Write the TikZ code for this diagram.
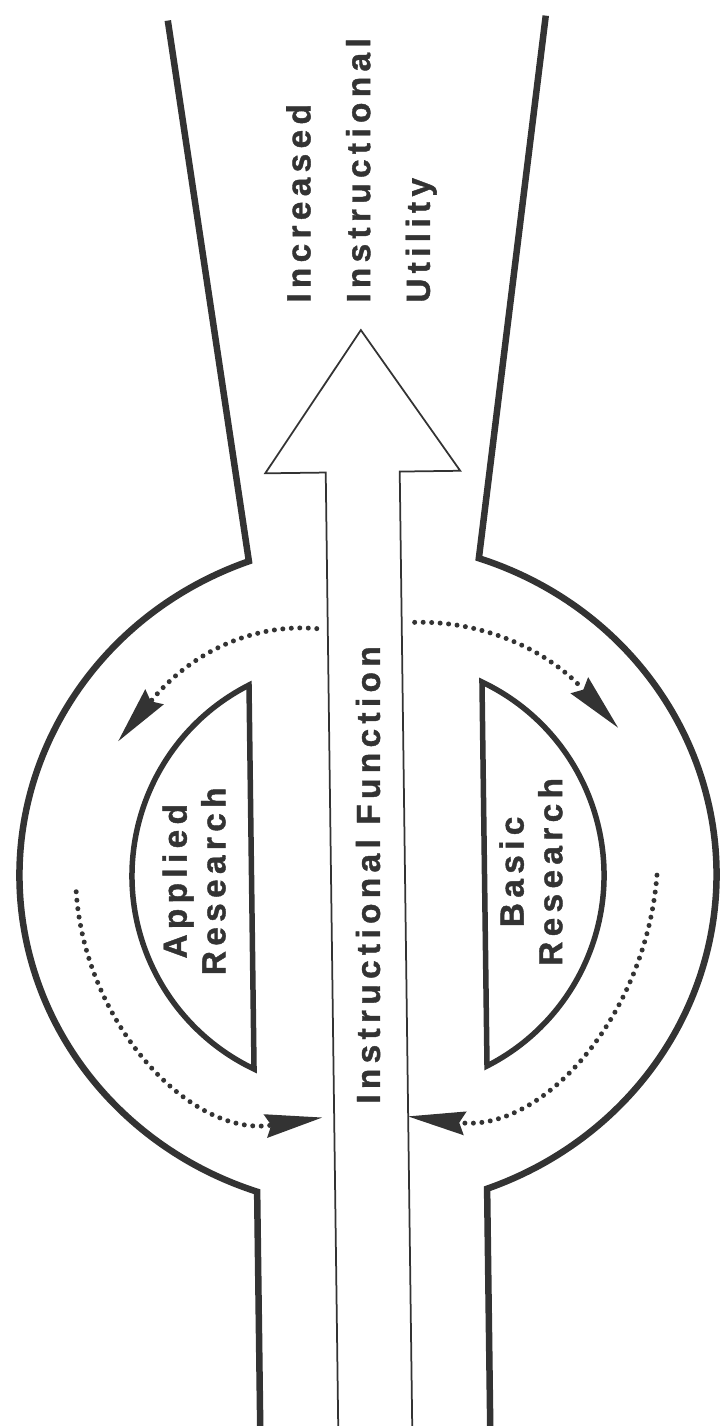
\documentclass[tikz,border=0pt]{standalone}
\usepackage{fontspec}
\newfontfamily\diagfont[LetterSpace=16,UprightFont={Liberation Sans Bold},
  BoldFont={Liberation Sans Bold},FakeBold=1.2]{Liberation Sans}
\usetikzlibrary{arrows.meta}
\definecolor{ink}{gray}{0.2}
\newcommand\labelsize[1]{\diagfont\bfseries\fontsize{19}{#1}\selectfont}

\begin{document}
\begin{tikzpicture}[x=0.02cm,y=-0.02cm,
  outline/.style={draw=ink,line width=0.13cm,line join=miter},
  thinline/.style={draw=ink,line width=0.035cm,line join=miter},
  dotarrow/.style={draw=ink,line width=0.1cm,line cap=round,
    dash pattern=on 0pt off 0.17cm,
    -{Stealth[length=1.15cm,width=0.48cm,inset=0.12cm,line width=0pt]}},
  lbl/.style={text=ink,inner sep=0pt,rotate=90}]
\useasboundingbox (0,0) rectangle (721,1426);
\clip (0,0) rectangle (721,1426);
\begin{scope}[rotate around={0.75:(368,875)}]
  % funnel, ring and neck
  \draw[outline] (179,18) -- (253,559.7)
    arc[start angle=250.73, end angle=109.27, x radius=348.5, y radius=334]
    -- (253,1440);
  \draw[outline] (557,18) -- (483,559.7)
    arc[start angle=-70.73, end angle=70.73, x radius=348.5, y radius=334]
    -- (483,1440);

  % hollow arrow of the function
  \draw[thinline] (331,1440) -- (331,472) -- (270.5,472) -- (368,330)
    -- (465.5,472) -- (405,472) -- (405,1440);

  % research half discs
  \draw[outline,line width=0.11cm] (251.5,683.5)
    arc[start angle=243.8, end angle=116.2, radius=214] -- cycle;
  \draw[outline,line width=0.11cm] (484.5,683.5)
    arc[start angle=-63.8, end angle=63.8, radius=214] -- cycle;

  % labels
  \node[lbl,font=\labelsize{34},anchor=west,align=left] (utility) at (369,303)
    {Increased\\Instructional\\Utility};
  \node[lbl,font=\labelsize{22}] (function) at (368,875) {Instructional Function};
  \node[lbl,font=\labelsize{22},align=center] (applied) at (194,879) {Applied\\Research};
  \node[lbl,font=\labelsize{22},align=center] (basic) at (531,874) {Basic\\Research};

  % dotted flows
  \coordinate (tlstart) at (320,628);
  \coordinate (tltip) at (120,738);
  \coordinate (trstart) at (418,623);
  \coordinate (trtip) at (620,731);
  \coordinate (blstart) at (76,888);
  \coordinate (bltip) at (319,1117);
  \coordinate (brstart) at (657,879);
  \coordinate (brtip) at (405,1117);
  \draw[dotarrow] (tlstart) .. controls (263,622) and (198,645) .. (tltip);
  \draw[dotarrow] (trstart) .. controls (483,622) and (548,650) .. (trtip);
  \draw[dotarrow] (blstart) .. controls (83,1020) and (187,1135) .. (bltip);
  \draw[dotarrow] (brstart) .. controls (644,1020) and (539,1135) .. (brtip);
\end{scope}
\end{tikzpicture}
\end{document}
